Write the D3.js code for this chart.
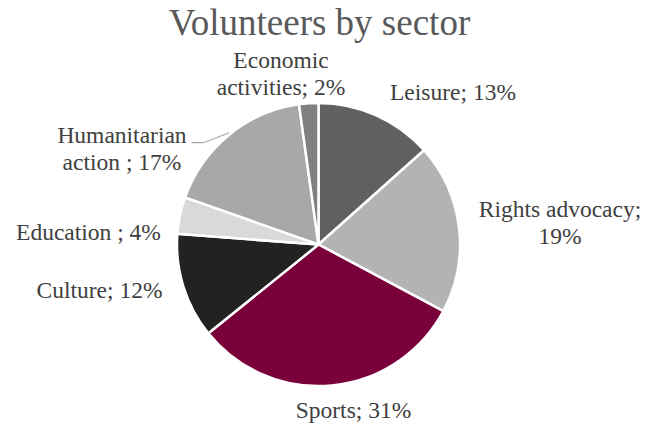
<!DOCTYPE html>
<html>
<head>
<meta charset="utf-8">
<script src="https://cdn.jsdelivr.net/npm/d3@7"></script>
</head>
<body style="margin:0;background:#ffffff">
<svg id="chart" width="645" height="427" style="display:block;font-family:'Liberation Serif'"></svg>
<script>
// Sector shares of volunteers (percent), clockwise from 12 o'clock
const sectors = ["Leisure", "Rights advocacy", "Sports", "Culture", "Education", "Humanitarian action", "Economic activities"];
const shares  = [13.4, 19.4, 31.4, 12.0, 4.2, 17.4, 2.2];
const fills   = ["#606060", "#b3b3b3", "#7a003c", "#222222", "#d9d9d9", "#a8a8a8", "#808080"];
// Label lines: the share placeholder {p} is filled from the data
const labelLines = [
  ["Leisure; {p}"],
  ["Rights advocacy;", "{p}"],
  ["Sports; {p}"],
  ["Culture; {p}"],
  ["Education ; {p}"],
  ["Humanitarian", "action ; {p}"],
  ["Economic", "activities; {p}"]
];
const title = "Volunteers by sector";

const FONT = '"Liberation Serif"';
const svg = d3.select("#chart");
const cx = 318.5, cy = 244.5, radius = 141.5;

svg.append("text")
  .attr("x", 319.5).attr("y", 35)
  .attr("text-anchor", "middle")
  .attr("font-size", 37)
  .attr("fill", "#595959")
  .style("font-family", FONT)
  .text(title);

const data = sectors.map((s, i) => ({ sector: s, value: shares[i], fill: fills[i], lines: labelLines[i] }));
const total = d3.sum(shares);

const pie = d3.pie().value(d => d.value).sort(null);
const arc = d3.arc().innerRadius(0).outerRadius(radius);
const arcs = pie(data);

const g = svg.append("g").attr("transform", `translate(${cx},${cy})`);

g.selectAll("path.slice")
  .data(arcs)
  .join("path")
  .attr("class", "slice")
  .attr("d", arc)
  .attr("fill", d => d.data.fill)
  .attr("stroke", "#ffffff")
  .attr("stroke-width", 2.5)
  .attr("stroke-linejoin", "miter");

// Label placement, relative to the pie centre: x of the text centre, y of the first baseline
const labelOffset = [
  [134.5, -145],
  [241.5, -27.5],
  [35, 173.5],
  [-219, 53.5],
  [-230, -4.5],
  [-196.5, -101.5],
  [-37.5, -176.5]
];

const lineGap = 26.5;
const labelSize = 23.5;

arcs.forEach((a, i) => {
  const pct = Math.round(a.data.value / total * 100) + "%";
  const [lx, ly] = labelOffset[i];
  const t = g.append("text")
    .attr("text-anchor", "middle")
    .attr("font-size", labelSize)
    .attr("fill", "#404040")
    .style("font-family", FONT);
  a.data.lines.forEach((ln, k) => {
    t.append("tspan")
      .attr("x", lx)
      .attr("y", ly + k * lineGap)
      .text(ln.replace("{p}", pct));
  });
});

// Leader line from the Humanitarian label to its slice
g.append("polyline")
  .attr("points", [[-126.8, -101.8], [-115.2, -101.8], [-89.2, -111.8]].map(p => p.join(",")).join(" "))
  .attr("fill", "none")
  .attr("stroke", "#a6a6a6")
  .attr("stroke-width", 1.2);
</script>
</body>
</html>
